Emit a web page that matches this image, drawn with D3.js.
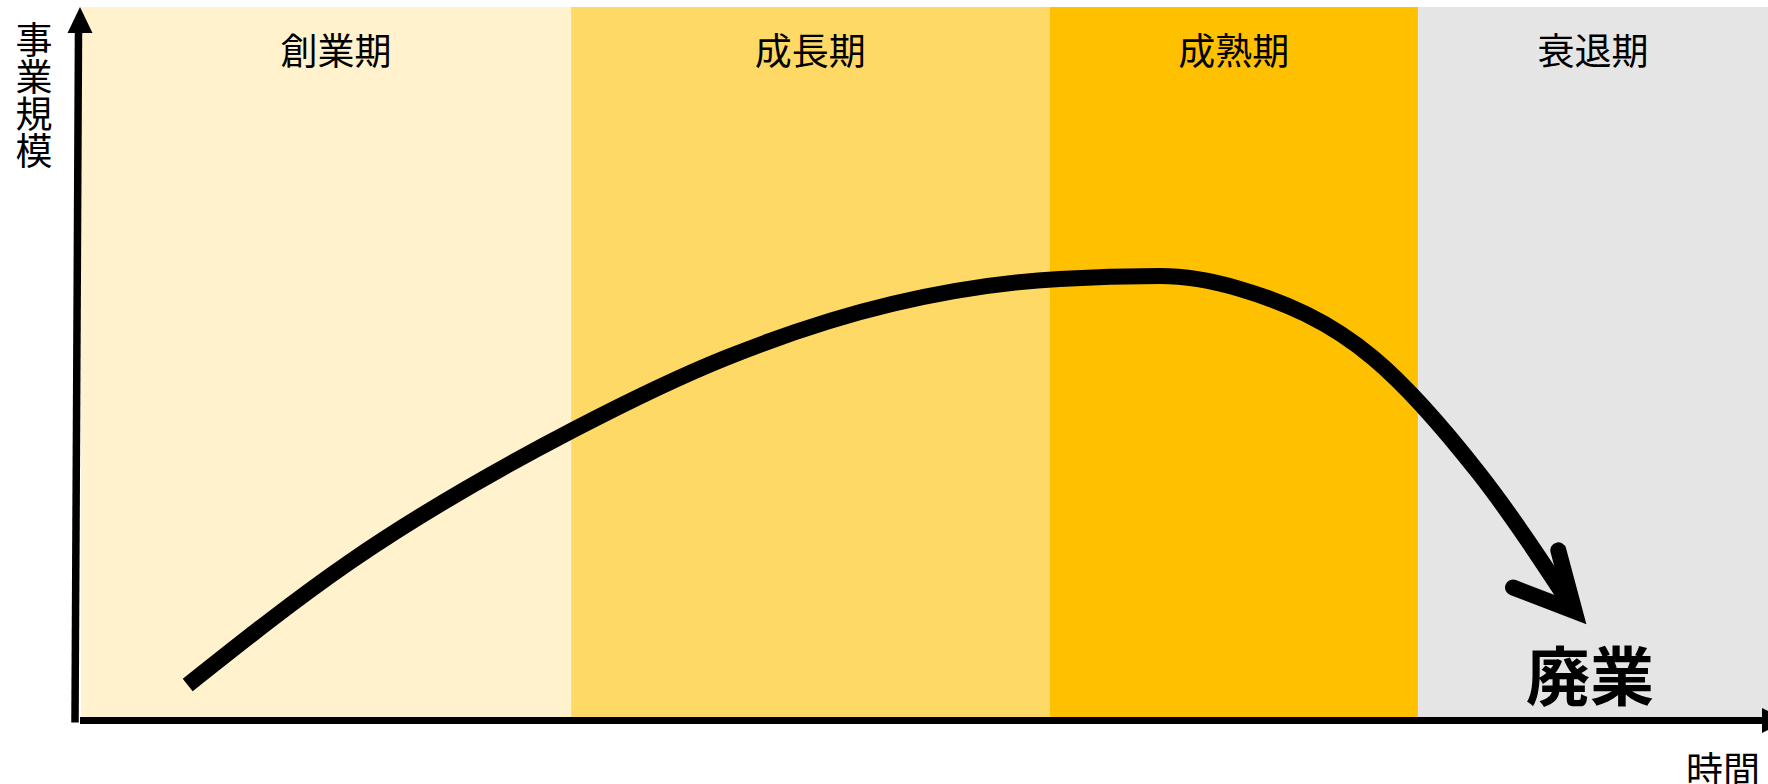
<!DOCTYPE html>
<html lang="ja">
<head>
<meta charset="utf-8">
<script src="https://cdn.jsdelivr.net/npm/d3@7"></script>
<style>
  html, body { margin: 0; padding: 0; background: #ffffff; }
  svg { display: block; }
  text { font-family: "Noto Sans CJK JP", "Noto Sans", sans-serif; fill: #000; }
</style>
</head>
<body>
<svg id="chart" width="1768" height="784"></svg>
<script>
// ---- data ----
const phaseNames = ["創業期", "成長期", "成熟期", "衰退期"];
const phaseStarts = [0, 28.2, 56.9, 79.0];
const phaseEnds = [28.2, 56.9, 79.0, 100];
const phaseColors = ["#FFF2CC", "#FFD966", "#FFC000", "#E5E5E5"];

// life-cycle curve: time (x) vs business scale (y)
const timeValues = [5.2, 14.9, 28.3, 37.5, 47.5, 57.5, 63.5, 68.3, 76.3, 82.7, 88.4];
const scaleValues = [4.5, 21.8, 40.4, 50.6, 58.2, 61.7, 62.1, 60.3, 50.6, 34.2, 14.9];

const yAxisTitle = "事業規模";
const xAxisTitle = "時間";
const endLabel = "廃業";

// ---- layout ----
const svg = d3.select("#chart");
const x = d3.scaleLinear().domain([0, 100]).range([101, 1768]);
const y = d3.scaleLinear().domain([0, 100]).range([717, 7]);
const axisLeft = 81;

// background phase bands
const phases = phaseNames.map((name, i) => ({ name, start: phaseStarts[i], end: phaseEnds[i], color: phaseColors[i] }));
svg.append("g").selectAll("rect").data(phases).join("rect")
  .attr("x", (d, i) => i === 0 ? axisLeft : x(d.start))
  .attr("y", y(100))
  .attr("width", (d, i) => x(d.end) - (i === 0 ? axisLeft : x(d.start)))
  .attr("height", y(0) - y(100))
  .attr("fill", d => d.color);

// phase labels
svg.append("g").selectAll("text").data(phases).join("text")
  .attr("x", d => (x(d.start) + x(d.end)) / 2)
  .attr("y", 49)
  .attr("text-anchor", "middle")
  .attr("dominant-baseline", "central")
  .style("font-size", "37px")
  .text(d => d.name);

// axes
const axisY0 = y(0) + 3.5;
svg.append("line")
  .attr("x1", 78.5).attr("y1", 30)
  .attr("x2", 75).attr("y2", axisY0 + 2)
  .attr("stroke", "#000").attr("stroke-width", 7.5);
svg.append("path")
  .attr("d", `M80,7 L67.5,33 L92.5,33 Z`)
  .attr("fill", "#000");
svg.append("line")
  .attr("x1", 80).attr("y1", axisY0)
  .attr("x2", 1764).attr("y2", axisY0)
  .attr("stroke", "#000").attr("stroke-width", 7);
svg.append("path")
  .attr("d", `M1762,${axisY0 - 12.5} L1788,${axisY0} L1762,${axisY0 + 12.5} Z`)
  .attr("fill", "#000");

// curve
const pts = timeValues.map((t, i) => [x(t), y(scaleValues[i])]);
const line = d3.line().curve(d3.curveMonotoneX);
svg.append("path")
  .attr("d", line(pts))
  .attr("fill", "none")
  .attr("stroke", "#000")
  .attr("stroke-width", 16)
  .attr("stroke-linecap", "butt");

// open arrowhead at curve end
const tip = pts[pts.length - 1];
const rad = Math.PI / 180;
const wingA = [tip[0] - 66 * Math.cos(21 * rad), tip[1] - 66 * Math.sin(21 * rad)];
const wingB = [tip[0] - 63 * Math.cos(75 * rad), tip[1] - 63 * Math.sin(75 * rad)];
svg.append("path")
  .attr("d", d3.line()([wingA, tip, wingB]))
  .attr("fill", "none")
  .attr("stroke", "#000")
  .attr("stroke-width", 16)
  .attr("stroke-linecap", "round")
  .attr("stroke-linejoin", "miter")
  .attr("stroke-miterlimit", 10);

// texts
svg.append("text")
  .attr("x", 34).attr("y", 21)
  .style("writing-mode", "vertical-rl")
  .style("font-size", "37px")
  .text(yAxisTitle);

svg.append("text")
  .attr("x", 1723).attr("y", 768)
  .attr("text-anchor", "middle")
  .attr("dominant-baseline", "central")
  .style("font-size", "37px")
  .text(xAxisTitle);

svg.append("text")
  .attr("x", 1590).attr("y", 672)
  .attr("text-anchor", "middle")
  .attr("dominant-baseline", "central")
  .style("font-size", "64px")
  .style("font-weight", "700")
  .text(endLabel);
</script>
</body>
</html>
